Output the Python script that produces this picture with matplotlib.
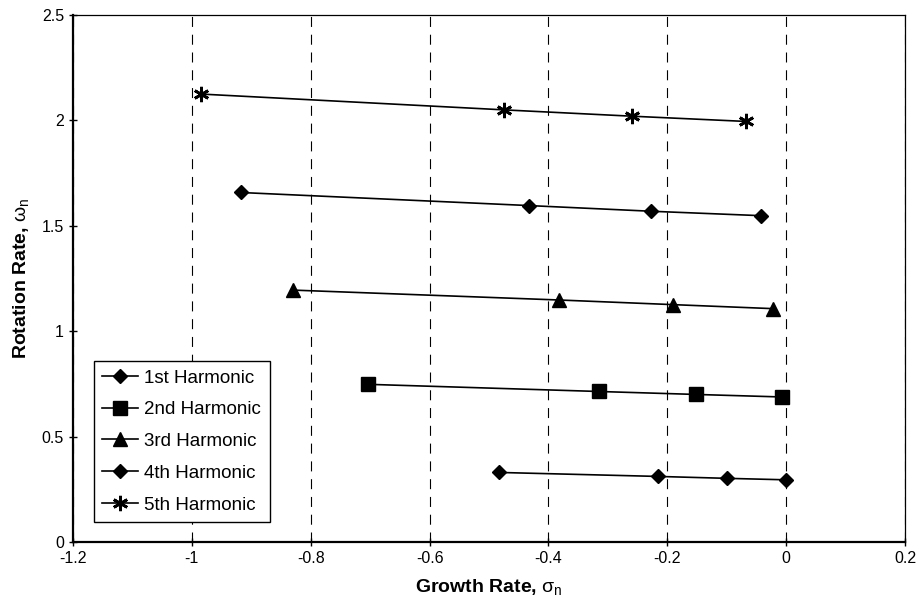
import matplotlib
matplotlib.use('Agg')
import matplotlib.pyplot as plt
from matplotlib.ticker import MultipleLocator

# Data (growth rate sigma_n, rotation rate omega_n)
h1_x = [-0.918, -0.433, -0.227, -0.042]
h1_y = [1.658, 1.596, 1.569, 1.548]
h2_x = [-0.704, -0.315, -0.152, -0.007]
h2_y = [0.748, 0.714, 0.700, 0.688]
h3_x = [-0.830, -0.382, -0.190, -0.022]
h3_y = [1.195, 1.148, 1.126, 1.107]
h4_x = [-0.484, -0.215, -0.100, 0.000]
h4_y = [0.330, 0.311, 0.302, 0.295]
h5_x = [-0.985, -0.475, -0.260, -0.067]
h5_y = [2.125, 2.050, 2.020, 1.995]
series_labels = ['1st Harmonic', '2nd Harmonic', '3rd Harmonic',
                 '4th Harmonic', '5th Harmonic']

plt.rcParams['font.family'] = ['Liberation Sans', 'DejaVu Sans']
plt.rcParams['mathtext.fontset'] = 'custom'
plt.rcParams['mathtext.rm'] = 'Liberation Sans'
plt.rcParams['mathtext.it'] = 'Liberation Sans'

fig = plt.figure(figsize=(9.2, 6.08), dpi=100)
ax = fig.add_axes([73/920, 1-542/608, (905-73)/920, (542-15)/608])

style = dict(color='black', linewidth=1.2)
ax.plot(h1_x, h1_y, marker='D', markersize=6.8, **style, label=series_labels[0])
ax.plot(h2_x, h2_y, marker='s', markersize=9.5, **style, label=series_labels[1])
ax.plot(h3_x, h3_y, marker='^', markersize=10, **style, label=series_labels[2])
ax.plot(h4_x, h4_y, marker='D', markersize=6.8, **style, label=series_labels[3])
ax.plot(h5_x, h5_y, marker=(6, 2, 0), markersize=11, markeredgewidth=2,
        **style, label=series_labels[4])

ax.set_xlim(-1.2, 0.2)
ax.set_ylim(0, 2.5)
ax.xaxis.set_major_locator(MultipleLocator(0.2))
ax.yaxis.set_major_locator(MultipleLocator(0.5))

def fmt(v, pos):
    s = f'{v:.1f}'
    if s.endswith('.0'):
        s = s[:-2]
    if s == '-0':
        s = '0'
    return s
ax.xaxis.set_major_formatter(plt.FuncFormatter(fmt))
ax.yaxis.set_major_formatter(plt.FuncFormatter(fmt))

ax.grid(axis='x', color='black', linewidth=0.8, linestyle=(0, (9, 7)))
ax.set_axisbelow(True)

ax.tick_params(direction='inout', length=6, width=1, labelsize=11.5, colors='black')
for side in ['left', 'bottom']:
    ax.spines[side].set_linewidth(1.6)
for side in ['top', 'right']:
    ax.spines[side].set_linewidth(0.9)

ax.set_xlabel(r'Growth Rate, $\sigma_{\rm n}$', fontsize=14, fontweight='bold', labelpad=8)
ax.set_ylabel(r'Rotation Rate, $\omega_{\rm n}$', fontsize=14, fontweight='bold', labelpad=8)

leg = ax.legend(loc='lower left', bbox_to_anchor=(0.025, 0.038), borderaxespad=0,
                fontsize=13.5, frameon=True, fancybox=False, edgecolor='black',
                framealpha=1, handlelength=1.9, labelspacing=0.78, handletextpad=0.35,
                borderpad=0.45)
leg.get_frame().set_linewidth(1.0)

fig.savefig('out.png', dpi=100)
